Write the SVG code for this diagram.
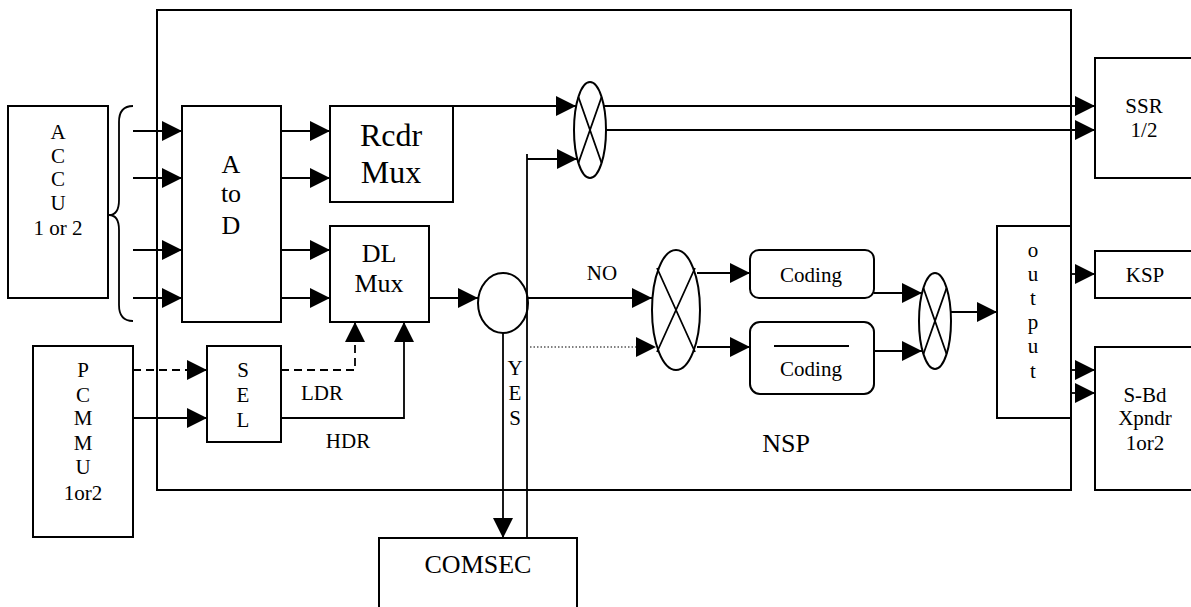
<svg xmlns="http://www.w3.org/2000/svg" width="1191" height="607" viewBox="0 0 1191 607">
<defs>
<style>
.box{fill:#fff;stroke:#000;stroke-width:2}
.ln{fill:none;stroke:#000;stroke-width:1.8}
.dash{fill:none;stroke:#000;stroke-width:1.8;stroke-dasharray:8 5}
.dot{fill:none;stroke:#000;stroke-width:1.2;stroke-dasharray:1.5 2}
.mx{fill:#fff;stroke:#000;stroke-width:2}
.head{fill:#000;stroke:none}
.t{font-family:"Liberation Serif","Times New Roman",serif;font-size:21px;fill:#000;text-anchor:middle}
.tl{font-size:26px}
.tx{font-size:32px}
</style>
<marker id="ah" markerUnits="userSpaceOnUse" markerWidth="20" markerHeight="20" refX="20" refY="10" orient="auto">
<path d="M0,0 L20,10 L0,20 z" fill="#000"/>
</marker>
</defs>
<rect width="1191" height="607" fill="#fff"/>

<g id="nsp">
<rect class="box" x="157" y="10" width="914" height="480" fill="none"/>
<text class="t tl" x="786" y="452">NSP</text>
</g>

<g id="accu">
<rect class="box" x="8" y="106" width="100" height="192"/>
<text class="t" x="58" y="139">A</text>
<text class="t" x="58" y="163">C</text>
<text class="t" x="58" y="186">C</text>
<text class="t" x="58" y="210">U</text>
<text class="t" x="58" y="235">1 or 2</text>
</g>

<g id="brace">
<path class="ln" d="M133,106 Q119,106 119,122 L119,200 Q119,215 109,215 Q119,215 119,230 L119,305 Q119,321 133,321"/>
</g>

<g id="atod">
<rect class="box" x="182" y="106" width="99" height="216"/>
<text class="t tl" x="231" y="173">A</text>
<text class="t tl" x="231" y="202">to</text>
<text class="t tl" x="231" y="234">D</text>
</g>

<g id="rcdrmux">
<rect class="box" x="330" y="106" width="123" height="96"/>
<text class="t tx" x="391" y="146">Rcdr</text>
<text class="t tx" x="391" y="183">Mux</text>
</g>

<g id="dlmux">
<rect class="box" x="330" y="226" width="99" height="96"/>
<text class="t tl" x="379" y="262">DL</text>
<text class="t tl" x="379" y="292">Mux</text>
</g>

<g id="pcmmu">
<rect class="box" x="33" y="346" width="100" height="191"/>
<text class="t" x="83" y="377">P</text>
<text class="t" x="83" y="402">C</text>
<text class="t" x="83" y="425">M</text>
<text class="t" x="83" y="450">M</text>
<text class="t" x="83" y="474">U</text>
<text class="t" x="83" y="500">1or2</text>
</g>

<g id="sel">
<rect class="box" x="207" y="346" width="74" height="96"/>
<text class="t" x="243" y="377">S</text>
<text class="t" x="243" y="402">E</text>
<text class="t" x="243" y="427">L</text>
</g>

<g id="switch">
<ellipse class="mx" cx="503" cy="303" rx="25" ry="30"/>
</g>

<g id="comsec">
<rect class="box" x="379" y="538" width="198" height="80"/>
<text class="t tl" x="478" y="573">COMSEC</text>
</g>

<g id="mixer1">
<ellipse class="mx" cx="590" cy="130" rx="16" ry="48"/>
<path class="ln" d="M578.4,97 L601.6,163 M601.6,97 L578.4,163"/>
</g>

<g id="mixer2">
<ellipse class="mx" cx="676" cy="310" rx="24" ry="60"/>
<path class="ln" d="M657,268 L695,352 M695,268 L657,352"/>
</g>

<g id="coding1">
<rect class="box" x="750" y="250" width="124" height="48" rx="9"/>
<text class="t" x="811" y="282">Coding</text>
</g>

<g id="coding2">
<rect class="box" x="750" y="322" width="124" height="72" rx="10"/>
<line class="ln" x1="774" y1="346" x2="849" y2="346"/>
<text class="t" x="811" y="376">Coding</text>
</g>

<g id="mixer3">
<ellipse class="mx" cx="935" cy="321" rx="16" ry="48"/>
<path class="ln" d="M923.4,288 L946.6,354 M946.6,288 L923.4,354"/>
</g>

<g id="output">
<rect class="box" x="997" y="226" width="74" height="192"/>
<text class="t" x="1033" y="257">o</text>
<text class="t" x="1033" y="281">u</text>
<text class="t" x="1033" y="305">t</text>
<text class="t" x="1033" y="329">p</text>
<text class="t" x="1033" y="353">u</text>
<text class="t" x="1033" y="378">t</text>
</g>

<g id="ssr">
<rect class="box" x="1095" y="58" width="110" height="120"/>
<text class="t" x="1144" y="113">SSR</text>
<text class="t" x="1144" y="137">1/2</text>
</g>

<g id="ksp">
<rect class="box" x="1095" y="251" width="110" height="47"/>
<text class="t" x="1145" y="282">KSP</text>
</g>

<g id="sbd">
<rect class="box" x="1095" y="347" width="110" height="143"/>
<text class="t" x="1145" y="402">S-Bd</text>
<text class="t" x="1145" y="425">Xpndr</text>
<text class="t" x="1145" y="450">1or2</text>
</g>

<g id="connectors">
<line class="ln" x1="133" y1="131" x2="182" y2="131" marker-end="url(#ah)"/>
<line class="ln" x1="133" y1="178" x2="182" y2="178" marker-end="url(#ah)"/>
<line class="ln" x1="133" y1="250" x2="182" y2="250" marker-end="url(#ah)"/>
<line class="ln" x1="133" y1="298" x2="182" y2="298" marker-end="url(#ah)"/>
<line class="ln" x1="281" y1="131" x2="330" y2="131" marker-end="url(#ah)"/>
<line class="ln" x1="281" y1="178" x2="330" y2="178" marker-end="url(#ah)"/>
<line class="ln" x1="281" y1="250" x2="330" y2="250" marker-end="url(#ah)"/>
<line class="ln" x1="281" y1="298" x2="330" y2="298" marker-end="url(#ah)"/>
<line class="dash" x1="133" y1="370" x2="207" y2="370" marker-end="url(#ah)"/>
<line class="ln" x1="133" y1="418" x2="207" y2="418" marker-end="url(#ah)"/>
<polyline class="dash" points="281,370 355,370 355,322" marker-end="url(#ah)"/>
<polyline class="ln" points="281,418 404,418 404,322" marker-end="url(#ah)"/>
<text class="t" x="322" y="400">LDR</text>
<text class="t" x="348" y="448">HDR</text>
<line class="ln" x1="429" y1="298" x2="478" y2="298" marker-end="url(#ah)"/>
<line class="ln" x1="453" y1="106" x2="576" y2="106" marker-end="url(#ah)"/>
<polyline class="ln" points="527,538 527,154 527,159 577,159" marker-end="url(#ah)"/>
<line class="ln" x1="528" y1="298" x2="652" y2="298" marker-end="url(#ah)"/>
<text class="t" x="602" y="280">NO</text>
<line class="dot" x1="530" y1="347" x2="637" y2="347"/>
<polygon class="head" points="636,337 656,347 636,357"/>
<line class="ln" x1="503" y1="333" x2="503" y2="538" marker-end="url(#ah)" stroke-width="2.2"/>
<text class="t" x="515" y="375">Y</text>
<text class="t" x="515" y="400">E</text>
<text class="t" x="515" y="425">S</text>
<line class="ln" x1="604" y1="106" x2="1095" y2="106" marker-end="url(#ah)"/>
<line class="ln" x1="606" y1="130" x2="1095" y2="130" marker-end="url(#ah)"/>
<line class="ln" x1="697" y1="273" x2="750" y2="273" marker-end="url(#ah)"/>
<line class="ln" x1="697" y1="347" x2="750" y2="347" marker-end="url(#ah)"/>
<line class="ln" x1="874" y1="293" x2="922" y2="293" marker-end="url(#ah)"/>
<line class="ln" x1="874" y1="351" x2="922" y2="351" marker-end="url(#ah)"/>
<line class="ln" x1="951" y1="312" x2="997" y2="312" marker-end="url(#ah)"/>
<line class="ln" x1="1071" y1="274" x2="1095" y2="274" marker-end="url(#ah)"/>
<line class="ln" x1="1071" y1="370" x2="1095" y2="370" marker-end="url(#ah)"/>
<line class="ln" x1="1071" y1="393" x2="1095" y2="393" marker-end="url(#ah)"/>
</g>
</svg>
